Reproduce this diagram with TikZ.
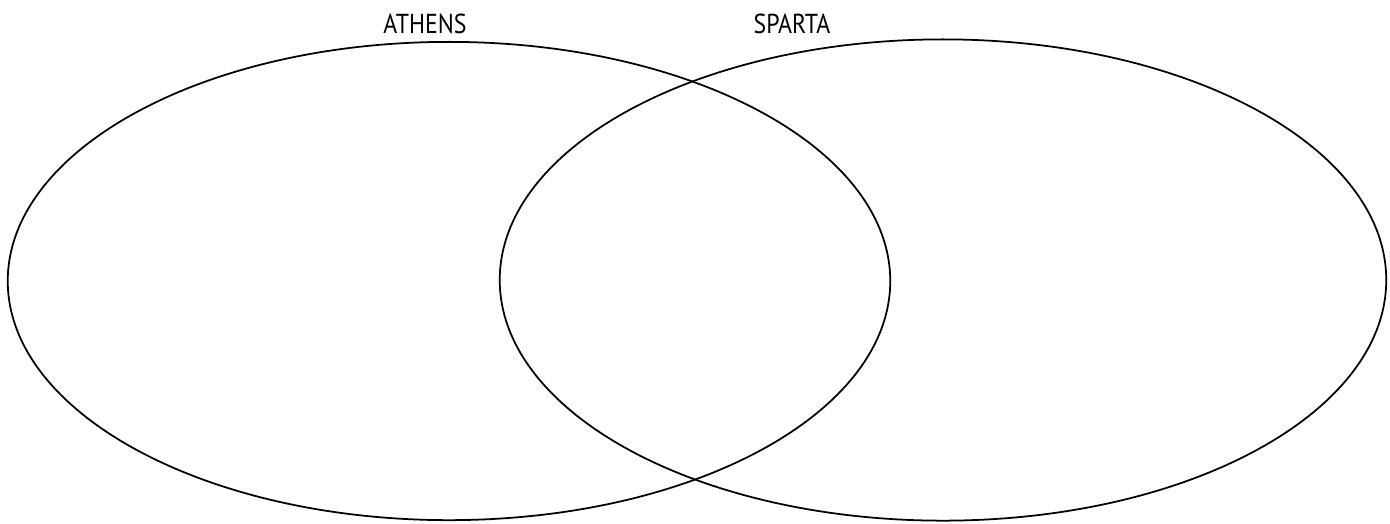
\documentclass[tikz,border=0pt]{standalone}
\usepackage{fontspec}
\setmainfont{PT Sans}[FakeStretch=0.87]
\usetikzlibrary{shapes.geometric,positioning}

\begin{document}
\begin{tikzpicture}[
  x=0.01cm, y=-0.01cm,
  every node/.style={font=\small},
  ring/.style={ellipse, draw, line width=0.5pt, inner sep=0pt, outer sep=0pt},
  title/.style={anchor=base, font=\fontsize{7.8}{9}\selectfont, inner sep=0pt}
]
\useasboundingbox (0,0) rectangle (1390,523);

% ---- Two overlapping sets ----
\node[ring, minimum width=8.82cm, minimum height=4.78cm] (athens) at (449,281) {};
\node[ring, minimum width=8.86cm, minimum height=4.81cm] (sparta) at (943,280) {};

% ---- Titles ----
\node[title] (athensT) at (425,33) {ATHENS};
\node[title] (spartaT) at (792,33) {SPARTA};

\end{tikzpicture}
\end{document}
